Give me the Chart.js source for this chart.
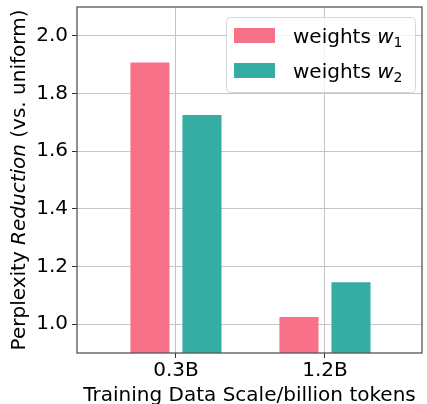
<!DOCTYPE html>
<html>
<head>
<meta charset="utf-8">
<script src="https://cdn.jsdelivr.net/npm/chart.js@4"></script>
<style>
    body { margin: 0; background: #fff; }
    #wrap { width: 427px; height: 404px; }
</style>
</head>
<body>
<div id="wrap"><canvas id="myChart" width="427" height="404"></canvas></div>
<script>
const categories = ['0.3B', '1.2B'];
const w1Values = [1.911, 1.028];
const w2Values = [1.729, 1.149];
const yTicks = [1.0, 1.2, 1.4, 1.6, 1.8, 2.0];

const pink = '#f77189';
const teal = '#36ada4';
const fontFamily = "'DejaVu Sans', sans-serif";

Chart.defaults.font.family = fontFamily;
Chart.defaults.font.size = 20;
Chart.defaults.color = '#000';

// frame, axis titles and legend are drawn by hand (mixed italic / subscripts)
const extras = {
    id: 'extras',
    afterDraw(chart) {
        const ctx = chart.ctx;
        const a = chart.chartArea;
        ctx.save();

        // frame on all four sides
        ctx.strokeStyle = '#555';
        ctx.lineWidth = 1.3;
        ctx.strokeRect(a.left, a.top, a.right - a.left, a.bottom - a.top);

        // x title
        ctx.fillStyle = '#000';
        ctx.font = '20px ' + fontFamily;
        ctx.textAlign = 'center';
        ctx.textBaseline = 'alphabetic';
        ctx.fillText('Training Data Scale/billion tokens', (a.left + a.right) / 2, 400.5);

        // y title: Perplexity *Reduction* (vs. uniform)
        const parts = [
            ['Perplexity ', '20px ' + fontFamily],
            ['Reduction', 'italic 20px ' + fontFamily],
            [' (vs. uniform)', '20px ' + fontFamily],
        ];
        let total = 0;
        parts.forEach(function (p) {
            ctx.font = p[1];
            total += ctx.measureText(p[0]).width;
        });
        ctx.translate(25, (a.top + a.bottom) / 2);
        ctx.rotate(-Math.PI / 2);
        ctx.textAlign = 'left';
        let x = -total / 2;
        parts.forEach(function (p) {
            ctx.font = p[1];
            ctx.fillText(p[0], x, 0);
            x += ctx.measureText(p[0]).width;
        });
        ctx.setTransform(1, 0, 0, 1, 0, 0);

        // legend
        const bx = 226, by = 17, bw = 189, bh = 75;
        ctx.fillStyle = 'rgba(255,255,255,0.8)';
        ctx.strokeStyle = '#d6d6d6';
        ctx.lineWidth = 1;
        ctx.beginPath();
        ctx.roundRect(bx + 0.5, by + 0.5, bw, bh, 4);
        ctx.fill();
        ctx.stroke();

        const items = [[pink, '1', 28], [teal, '2', 63]];
        items.forEach(function (it) {
            ctx.fillStyle = it[0];
            ctx.fillRect(234, it[2], 41, 15);
            const base = it[2] + 14.5;
            ctx.fillStyle = '#000';
            ctx.font = '20px ' + fontFamily;
            ctx.fillText('weights ', 293, base);
            let tx = 293 + ctx.measureText('weights ').width;
            ctx.font = 'italic 20px ' + fontFamily;
            ctx.fillText('w', tx, base);
            tx += ctx.measureText('w').width;
            ctx.font = '14px ' + fontFamily;
            ctx.fillText(it[1], tx, base + 4);
        });
        ctx.restore();
    }
};

function noPadding(scale) {
    scale.paddingTop = 0;
    scale.paddingBottom = 0;
    scale.paddingLeft = 0;
    scale.paddingRight = 0;
}

const ctx = document.getElementById('myChart').getContext('2d');

new Chart(ctx, {
    type: 'bar',
    data: {
        datasets: [
            {
                label: 'weights w1',
                data: w1Values.map(function (v, i) { return { x: i, y: v }; }),
                backgroundColor: pink,
                borderColor: 'rgba(255,255,255,0.4)',
                borderWidth: 1,
            },
            {
                label: 'weights w2',
                data: w2Values.map(function (v, i) { return { x: i, y: v }; }),
                backgroundColor: teal,
                borderColor: 'rgba(255,255,255,0.4)',
                borderWidth: 1,
            },
        ],
    },
    options: {
        responsive: false,
        animation: false,
        categoryPercentage: 0.698,
        barPercentage: 0.79,
        layout: {
            padding: { top: 7, right: 5, left: 0, bottom: 0 },
        },
        plugins: {
            legend: { display: false },
            tooltip: { enabled: false },
        },
        scales: {
            x: {
                type: 'linear',
                offset: false,
                min: -0.664,
                max: 1.651,
                afterBuildTicks: function (scale) {
                    scale.ticks = categories.map(function (c, i) { return { value: i }; });
                },
                afterFit: function (scale) {
                    scale.height = 51;
                    noPadding(scale);
                },
                ticks: {
                    padding: 1,
                    callback: function (value) {
                        return categories[value];
                    },
                },
                grid: {
                    offset: false,
                    color: '#c4c4c4',
                    tickColor: '#333',
                    tickLength: 5,
                },
                border: { display: false },
            },
            y: {
                min: 0.9,
                max: 2.1,
                afterBuildTicks: function (scale) {
                    scale.ticks = yTicks.map(function (v) { return { value: v }; });
                },
                afterFit: function (scale) {
                    scale.width = 77;
                    noPadding(scale);
                },
                ticks: {
                    padding: 4,
                    callback: function (value) {
                        return value.toFixed(1);
                    },
                },
                grid: {
                    color: '#c4c4c4',
                    tickColor: '#333',
                    tickLength: 5,
                },
                border: { display: false },
            },
        },
    },
    plugins: [extras],
});
</script>
</body>
</html>
